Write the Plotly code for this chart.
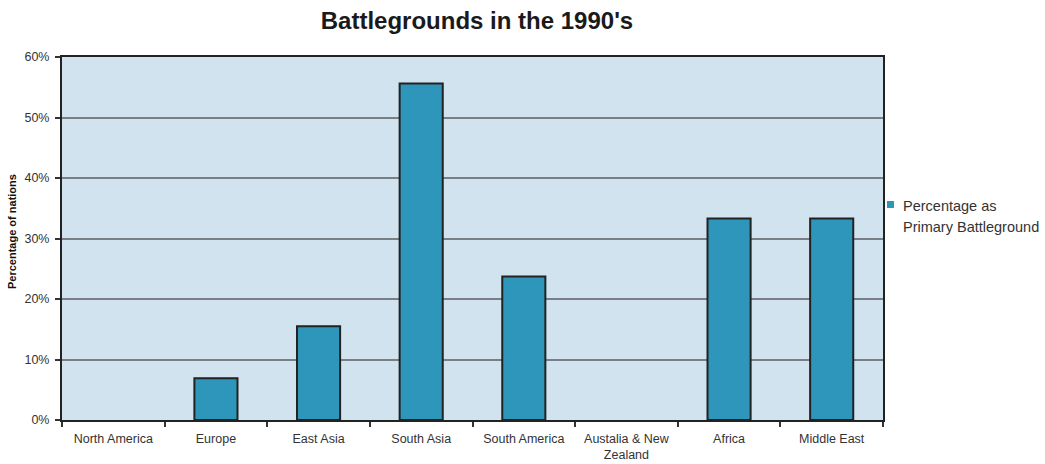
import plotly.graph_objects as go

# Share of conflicts where each region was the primary battleground
regions = ["North America", "Europe", "East Asia", "South Asia", "South America",
           "Austalia & New<br>Zealand", "Africa", "Middle East"]
percentages = [0.0, 6.9, 15.5, 55.6, 23.7, 0.0, 33.3, 33.3]
legend_lines = ["Percentage as", "Primary Battleground"]
y_ticks = [0, 10, 20, 30, 40, 50, 60]
y_tick_labels = ["0%", "10%", "20%", "30%", "40%", "50%", "60%"]

BAR_COLOR = "#2E96BA"
EDGE_COLOR = "#222222"

# plot area in pixels
W, H = 1045, 464
L, R, T, B = 62, 883, 57, 420
pw, ph = R - L, B - T

def px_x(x):
    return (x - L) / pw

def px_y(y):
    return (B - y) / ph

fig = go.Figure()
fig.add_trace(go.Bar(
    x=regions,
    y=percentages,
    width=0.42,
    marker=dict(
        color=BAR_COLOR,
        line=dict(color=EDGE_COLOR, width=[2 if v > 0 else 0 for v in percentages]),
    ),
    showlegend=False,
))

# legend swatch and text, drawn to the right of the plot
shapes = [dict(
    type="rect", xref="paper", yref="paper",
    x0=px_x(887), x1=px_x(894), y0=px_y(208), y1=px_y(201),
    fillcolor=BAR_COLOR, line=dict(width=0),
)]
annotations = [
    dict(text=line, xref="paper", yref="paper",
         x=px_x(901), y=px_y(206 + i * 21),
         xanchor="left", yanchor="middle", showarrow=False,
         font=dict(size=14.5, color="#333333"))
    for i, line in enumerate(legend_lines)
]
annotations.append(dict(
    text="<b>Percentage of nations</b>",
    xref="paper", yref="paper",
    x=px_x(12), y=px_y(232),
    xanchor="center", yanchor="middle",
    textangle=-90,
    showarrow=False,
    font=dict(size=11, color="#111111"),
))

fig.update_layout(
    width=W,
    height=H,
    margin=dict(l=L, r=W - R, t=T, b=H - B, autoexpand=False),
    paper_bgcolor="white",
    plot_bgcolor="#D0E3EE",
    font=dict(family="Arial, Liberation Sans, sans-serif", color="#333333", size=12.5),
    title=dict(
        text="<b>Battlegrounds in the 1990's</b>",
        x=477 / W, xanchor="center",
        y=1 - 21 / H, yanchor="middle",
        font=dict(size=24, color="#1a1a1a"),
    ),
    showlegend=False,
    shapes=shapes,
    annotations=annotations,
    xaxis=dict(
        type="category",
        tickson="boundaries",
        ticks="outside",
        ticklen=5,
        tickcolor="#333333",
        tickwidth=2,
        showline=True,
        linecolor=EDGE_COLOR,
        linewidth=2,
        mirror=True,
        showgrid=False,
        ticklabelstandoff=6,
        tickfont=dict(size=12.5, color="#333333"),
    ),
    yaxis=dict(
        range=[0, 60],
        tickvals=y_ticks,
        ticktext=y_tick_labels,
        ticks="outside",
        ticklen=5,
        tickcolor="#333333",
        tickwidth=2,
        showline=True,
        linecolor=EDGE_COLOR,
        linewidth=2,
        mirror=True,
        showgrid=True,
        gridcolor="#7A7F87",
        gridwidth=1.5,
        zeroline=False,
        ticklabelstandoff=3,
        tickfont=dict(size=12.5, color="#333333"),
    ),
)

fig.write_html("out.html")
